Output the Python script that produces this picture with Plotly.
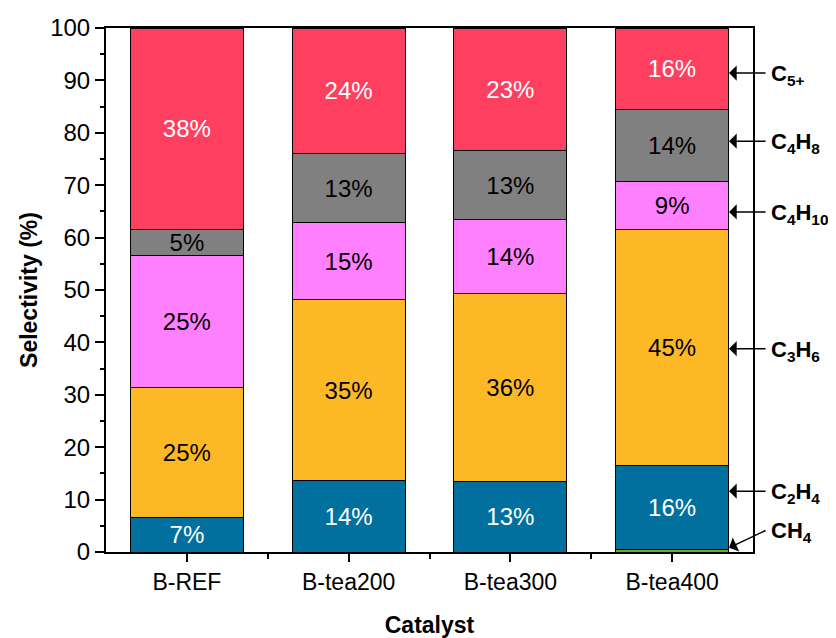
import plotly.graph_objects as go

# catalysts and product selectivities (%)
catalysts = ["B-REF", "B-tea200", "B-tea300", "B-tea400"]
ch4 = [0.0, 0.0, 0.0, 0.5]
c2h4 = [6.6, 13.6, 13.4, 16.0]
c3h6 = [24.7, 34.6, 35.9, 45.0]
c4h10 = [25.2, 14.6, 14.1, 9.2]
c4h8 = [5.1, 13.3, 13.2, 13.7]
c5p = [38.4, 23.9, 23.4, 15.6]

series = [
    ("CH4", ch4, "#7DAA00", None),
    ("C2H4", c2h4, "#02709E", "white"),
    ("C3H6", c3h6, "#FCB925", "black"),
    ("C4H10", c4h10, "#FF80FF", "black"),
    ("C4H8", c4h8, "#808080", "black"),
    ("C5+", c5p, "#FF3F60", "white"),
]

# right-hand labels: (text, arrow y, label y, arrow dx, arrow dy)
labels = [
    ("<b>C<sub>5+</sub></b>", 91.4, 91.0, 38, 0),
    ("<b>C<sub>4</sub>H<sub>8</sub></b>", 78.4, 78.0, 38, 0),
    ("<b>C<sub>4</sub>H<sub>10</sub></b>", 64.9, 64.5, 38, 0),
    ("<b>C<sub>3</sub>H<sub>6</sub></b>", 38.8, 38.4, 38, 0),
    ("<b>C<sub>2</sub>H<sub>4</sub></b>", 11.6, 11.2, 38, 0),
    ("<b>CH<sub>4</sub></b>", 0.8, 3.8, 38, -18),
]

FONT = "Liberation Sans, Arial, sans-serif"
xs = list(range(len(catalysts)))

fig = go.Figure()
for name, vals, col, tcol in series:
    kw = {}
    if tcol:
        kw = dict(texttemplate="%{y:.0f}%", textposition="inside",
                  insidetextanchor="middle", constraintext="none",
                  textfont=dict(color=tcol, size=24, family=FONT))
    fig.add_trace(go.Bar(x=xs, y=vals, name=name,
                         marker=dict(color=col, line=dict(color="black", width=1)),
                         **kw))

for txt, ya, yl, dx, dy in labels:
    fig.add_annotation(x=3.352, y=ya, text="", showarrow=True, ax=dx, ay=dy,
                       arrowhead=1, arrowsize=1.7, arrowwidth=1.5, arrowcolor="black",
                       standoff=0)
    fig.add_annotation(x=1.025, xref="paper", y=yl, text=txt, showarrow=False,
                       xanchor="left", yanchor="middle",
                       font=dict(size=22, color="black", family=FONT))

fig.update_layout(
    width=828, height=630,
    margin=dict(l=98, r=83, t=20, b=86),
    paper_bgcolor="white", plot_bgcolor="white",
    barmode="stack", bargap=0.3, showlegend=False,
    font=dict(family=FONT, size=24, color="black"),
)
fig.update_xaxes(
    range=[-0.5, 3.5], tickmode="array", tickvals=xs, ticktext=catalysts,
    ticks="outside", ticklen=8, tickwidth=1.5, tickcolor="black",
    minor=dict(tickvals=[0.5, 1.5, 2.5], ticks="outside", ticklen=5, tickwidth=1.5, tickcolor="black"),
    showline=True, linecolor="black", linewidth=2, mirror=True,
    showgrid=False, zeroline=False, automargin=False,
    tickfont=dict(size=23),
    title=dict(text="<b>Catalyst</b>", font=dict(size=23), standoff=24),
)
fig.update_yaxes(
    range=[0, 100], tickmode="linear", dtick=10, tick0=0,
    ticks="outside", ticklen=9, tickwidth=1.5, tickcolor="black",
    minor=dict(dtick=5, ticks="outside", ticklen=4, tickwidth=1.5, tickcolor="black"),
    showline=True, linecolor="black", linewidth=2, mirror=True,
    showgrid=False, zeroline=False, automargin=False,
    tickfont=dict(size=24),
    title=dict(text="<b>Selectivity (%)</b>", font=dict(size=23), standoff=6),
)

fig.write_html("out.html")
